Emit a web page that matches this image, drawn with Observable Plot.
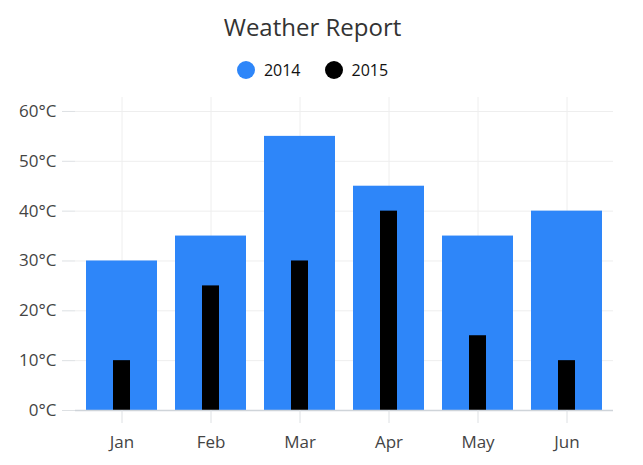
<!DOCTYPE html>
<html>
<head>
<meta charset="utf-8">
<script src="https://cdn.jsdelivr.net/npm/d3@7"></script>
<script src="https://cdn.jsdelivr.net/npm/@observablehq/plot@0.6"></script>
<style>
  html, body { margin: 0; padding: 0; background: #fff; }
  body { width: 643px; height: 465px; overflow: hidden; font-family: "Open Sans", "Noto Sans", sans-serif; }
  #title { width: 625px; height: 50px; line-height: 54px; text-align: center; font-size: 24px; color: #333; }
  #legend { width: 625px; height: 39px; display: flex; justify-content: center; align-items: center; font-size: 16px; color: #111; }
  .item { display: flex; align-items: center; margin: 0 12px; }
  .dot { width: 18px; height: 18px; border-radius: 50%; margin-right: 9px; }
  svg { display: block; }
  #chart svg text { font-size: 17px; font-family: "Open Sans", "Noto Sans", sans-serif; }
</style>
</head>
<body>
<div id="title">Weather Report</div>
<div id="legend"></div>
<div id="chart"></div>
<script>
const months = ["Jan", "Feb", "Mar", "Apr", "May", "Jun"];
const temp2014 = [30, 35, 55, 45, 35, 40];
const temp2015 = [10, 25, 30, 40, 15, 10];
const yTicks = [0, 10, 20, 30, 40, 50, 60];
const seriesNames = ["2014", "2015"];
const seriesColors = ["#2e86f9", "#000000"];

const legend = document.getElementById("legend");
seriesNames.forEach((name, i) => {
  const item = document.createElement("div");
  item.className = "item";
  const dot = document.createElement("span");
  dot.className = "dot";
  dot.style.background = seriesColors[i];
  const label = document.createElement("span");
  label.textContent = name;
  item.appendChild(dot);
  item.appendChild(label);
  legend.appendChild(item);
});

const data14 = months.map((m, i) => ({month: m, value: temp2014[i]}));
const data15 = months.map((m, i) => ({month: m, value: temp2015[i]}));

const chart = Plot.plot({
  width: 643,
  height: 376,
  marginLeft: 75,
  marginRight: 30,
  marginTop: 8,
  marginBottom: 55,
  style: {fontFamily: "'Open Sans', 'Noto Sans', sans-serif", color: "#444", background: "#fff"},
  x: {domain: months, padding: 0, label: null},
  y: {domain: [0, 62.8], label: null},
  marks: [
    Plot.gridY(yTicks, {stroke: "#eeeeee", strokeOpacity: 1}),
    Plot.gridX(months, {stroke: "#eeeeee", strokeOpacity: 1}),
    Plot.barY(data14, {x: "month", y: "value", fill: seriesColors[0], insetLeft: 9, insetRight: 9}),
    Plot.barY(data15, {x: "month", y: "value", fill: seriesColors[1], insetLeft: 36, insetRight: 36}),
    Plot.ruleY([0], {stroke: "#cfd4d9", strokeWidth: 1.5}),
    Plot.axisY(yTicks, {tickFormat: d => d + "°C", tickSize: 13, tickPadding: 6, stroke: "#dde0e3", line: true, fill: "#444", label: null}),
    Plot.axisX({tickSize: 13, tickPadding: 12, stroke: "#dde0e3", fill: "#444", label: null})
  ]
});
document.getElementById("chart").appendChild(chart);
</script>
</body>
</html>
